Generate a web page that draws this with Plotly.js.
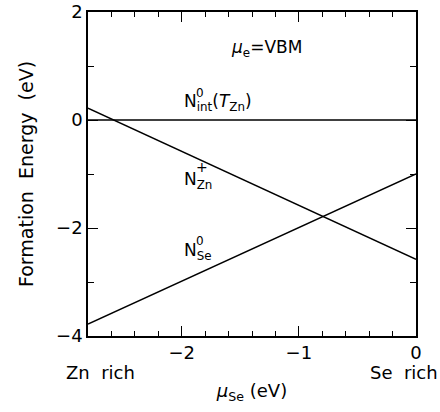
<!DOCTYPE html>
<html><head><meta charset="utf-8">
<script src="https://cdn.plot.ly/plotly-3.0.1.min.js"></script>
<style>html,body{margin:0;padding:0;background:#fff}</style>
</head><body>
<div id="chart" style="width:440px;height:412px"></div>
<script>
// chemical potential of Se (eV), endpoints of the allowed range
const muSe = [-2.8, 0];
// formation energies (eV) at those endpoints
const NintT = [0, 0];
const NZnPlus = [0.22, -2.58];
const NSe0 = [-3.78, -1.0];

const FONT = "DejaVu Sans, Verdana, sans-serif";
const line = {color: "#000", width: 1.5};

const traces = [
  {x: muSe, y: NintT, mode: "lines", line: line, hoverinfo: "skip"},
  {x: muSe, y: NZnPlus, mode: "lines", line: line, hoverinfo: "skip"},
  {x: muSe, y: NSe0, mode: "lines", line: line, hoverinfo: "skip"}
];

const ann = (x, y, text, opts) => Object.assign({
  x: x, y: y, xref: "x", yref: "y", text: text, showarrow: false,
  font: {family: FONT, size: 17, color: "#000"}, xanchor: "left", yanchor: "middle"
}, opts || {});

const layout = {
  width: 440, height: 412,
  margin: {l: 88, r: 24, t: 12, b: 76},
  paper_bgcolor: "#fff", plot_bgcolor: "#fff",
  showlegend: false,
  font: {family: FONT, size: 18, color: "#000"},
  xaxis: {
    range: [-2.8, 0], tick0: 0, dtick: 1, ticks: "inside", ticklen: 10, tickwidth: 1.4,
    tickcolor: "#000", showline: true, linecolor: "#000", linewidth: 1.5, mirror: "allticks",
    showgrid: false, zeroline: false,
    tickfont: {family: FONT, size: 18, color: "#000"},
    minor: {dtick: 0.2, ticks: "inside", ticklen: 5, tickwidth: 1.2, tickcolor: "#000", showgrid: false},
    title: {text: "<i>μ</i><sub>Se</sub> (eV)", font: {family: FONT, size: 18, color: "#000"}, standoff: 22}
  },
  yaxis: {
    range: [-4, 2], tick0: 0, dtick: 2, ticks: "inside", ticklen: 10, tickwidth: 1.4,
    tickcolor: "#000", showline: true, linecolor: "#000", linewidth: 1.5, mirror: "allticks",
    showgrid: false, zeroline: false,
    tickfont: {family: FONT, size: 18, color: "#000"},
    minor: {dtick: 1, ticks: "inside", ticklen: 6, tickwidth: 1.2, tickcolor: "#000", showgrid: false},
    title: {text: "Formation  Energy  (eV)", font: {family: FONT, size: 19, color: "#000"}, standoff: 17}
  },
  annotations: [
    ann(-1.28, 1.33, "<i>μ</i><sub>e</sub>=VBM", {xanchor: "center"}),
    ann(-2.0, 0.32, "N<sub>int</sub>(<i>T</i><sub>Zn</sub>)"),
    ann(-2.0, 0.32, "0", {font: {family: FONT, size: 12, color: "#000"}, xshift: 12, yshift: 10}),
    ann(-2.0, -1.12, "N<sub>Zn</sub>"),
    ann(-2.0, -1.12, "+", {font: {family: FONT, size: 14, color: "#000"}, xshift: 12, yshift: 13}),
    ann(-2.0, -2.43, "N<sub>Se</sub>"),
    ann(-2.0, -2.43, "0", {font: {family: FONT, size: 12, color: "#000"}, xshift: 12, yshift: 10}),
    {x: 0.038, y: -0.114, xref: "paper", yref: "paper", text: "Zn  rich", showarrow: false,
     font: {family: FONT, size: 18, color: "#000"}, xanchor: "center", yanchor: "middle"},
    {x: 0.963, y: -0.114, xref: "paper", yref: "paper", text: "Se  rich", showarrow: false,
     font: {family: FONT, size: 18, color: "#000"}, xanchor: "center", yanchor: "middle"}
  ]
};

Plotly.newPlot("chart", traces, layout, {displayModeBar: false});
</script>
</body></html>
